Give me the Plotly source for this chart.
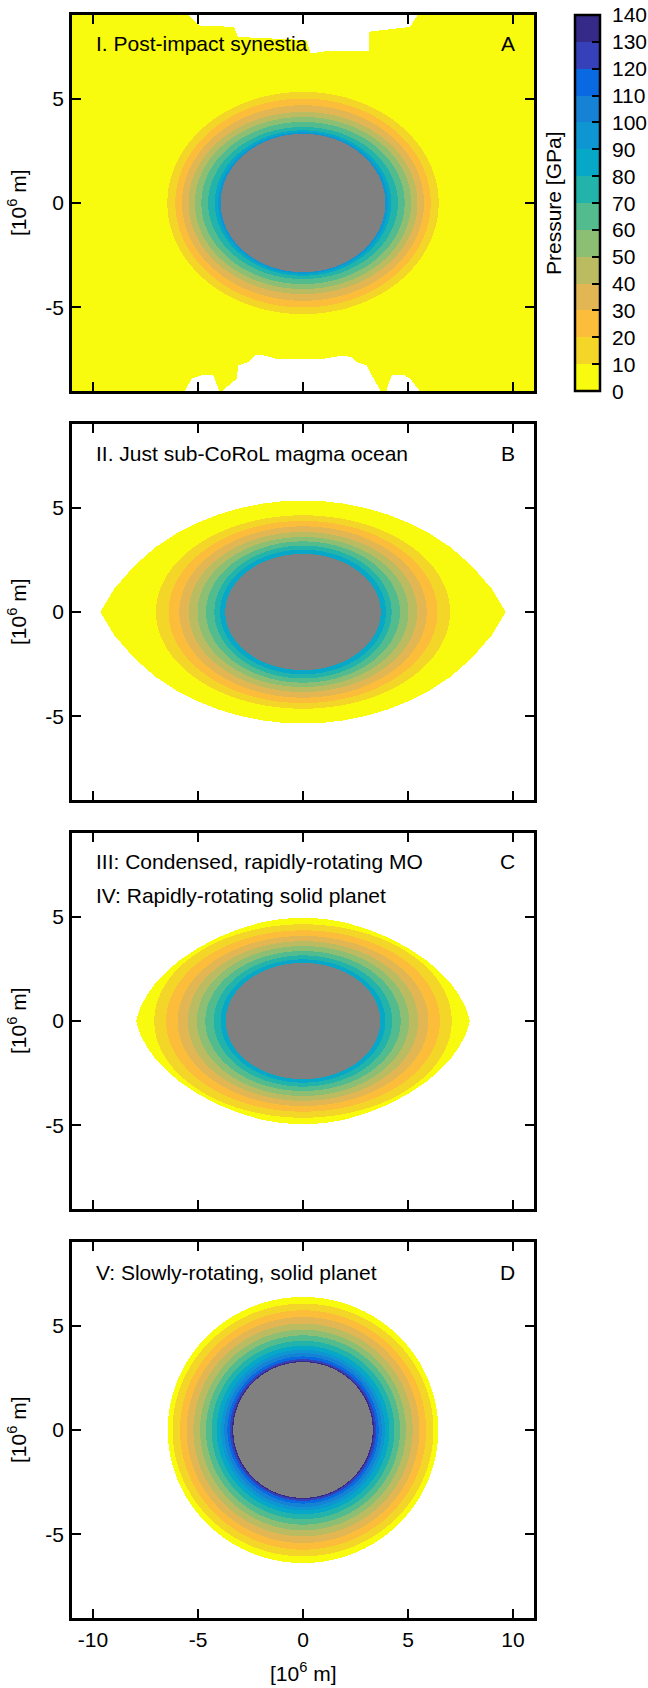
import numpy as np
import plotly.graph_objects as go

# ---------------- data ----------------
pressure_ticks = [0, 10, 20, 30, 40, 50, 60, 70, 80, 90, 100, 110, 120, 130, 140]
band_colors = ['#f9fb0e', '#f3d628', '#fcbd3a', '#e1b653', '#bbbb62', '#8cbe73', '#52bc8e',
               '#22b4ab', '#07a8c7', '#0d96d1', '#1682d5', '#0969e1', '#3640b9', '#352a87']
core_color = '#808080'

# Panel A: post-impact synestia
A_title = "I. Post-impact synestia"
A_tag = "A"
A_bound_p = [10, 20, 30, 40, 50, 60, 70, 80, 90]
A_bound_eq = [6.46, 6.08, 5.76, 5.45, 5.15, 4.84, 4.52, 4.20, 4.04]
A_bound_pol = [5.32, 5.00, 4.68, 4.36, 4.12, 3.88, 3.64, 3.48, 3.38]
A_core_eq, A_core_pol = 3.92, 3.31
A_notch_top_x = [-5.50, -4.96, -3.29, -3.10, 0.15, 0.36, 1.34, 3.12, 3.14, 5.10, 5.48, 5.6, -5.6]
A_notch_top_y = [9.05, 8.50, 8.43, 7.95, 7.80, 7.16, 7.30, 7.30, 8.20, 8.43, 9.05, 9.6, 9.6]
A_notch_bot1_x = [-5.60, -5.30, -4.75, -4.27, -4.00, -4.0, -5.6]
A_notch_bot1_y = [-8.95, -8.41, -8.22, -8.25, -8.95, -9.6, -9.6]
A_notch_bot2_x = [-3.79, -3.16, -3.08, -2.60, -2.29, -1.97, -1.25, 0.97, 1.92, 2.32, 2.56, 3.03, 3.19, 3.67, 3.7, -3.8]
A_notch_bot2_y = [-8.95, -8.41, -7.78, -7.62, -7.30, -7.27, -7.46, -7.46, -7.30, -7.38, -7.62, -7.78, -8.10, -8.95, -9.6, -9.6]
A_notch_bot3_x = [3.98, 4.22, 4.78, 5.10, 5.52, 5.6, 3.95]
A_notch_bot3_y = [-8.95, -8.25, -8.22, -8.41, -8.95, -9.6, -9.6]

# Panel B: just sub-CoRoL magma ocean
B_title = "II. Just sub-CoRoL magma ocean"
B_tag = "B"
B_bound_p = [10, 20, 30, 40, 50, 60, 70, 80]
B_bound_eq = [7.00, 6.40, 5.89, 5.44, 5.02, 4.62, 4.22, 3.95]
B_bound_pol = [4.63, 4.36, 4.10, 3.83, 3.59, 3.38, 3.18, 2.98]
B_core_eq, B_core_pol = 3.70, 2.78
B_surf_x = [0.0, 1.0, 2.0, 3.0, 4.0, 5.0, 6.0, 7.0, 8.0, 9.0, 9.65]
B_surf_y = [5.33, 5.30, 5.18, 4.97, 4.68, 4.28, 3.78, 3.12, 2.25, 1.10, 0.0]

# Panel C: condensed rapidly-rotating MO / solid planet
C_title = "III: Condensed, rapidly-rotating MO"
C_title2 = "IV: Rapidly-rotating solid planet"
C_tag = "C"
C_bound_p = [10, 20, 30, 40, 50, 60, 70, 80]
C_bound_eq = [7.08, 6.52, 5.97, 5.49, 5.05, 4.65, 4.25, 3.92]
C_bound_pol = [4.63, 4.34, 4.07, 3.82, 3.59, 3.35, 3.14, 2.95]
C_core_eq, C_core_pol = 3.68, 2.78
C_surf_x = [0.0, 1.0, 2.0, 3.0, 4.0, 5.0, 6.0, 7.0, 7.4, 7.75, 7.95]
C_surf_y = [4.95, 4.89, 4.72, 4.42, 4.02, 3.50, 2.82, 1.85, 1.30, 0.65, 0.0]

# Panel D: slowly-rotating solid planet
D_title = "V: Slowly-rotating, solid planet"
D_tag = "D"
D_bound_p = [10, 20, 30, 40, 50, 60, 70, 80, 90, 100, 110, 120, 130]
D_bound_eq = [6.21, 5.86, 5.54, 5.22, 4.90, 4.62, 4.35, 4.11, 3.90, 3.75, 3.60, 3.48, 3.38]
D_bound_pol = [6.05, 5.73, 5.41, 5.09, 4.80, 4.53, 4.27, 4.03, 3.84, 3.68, 3.52, 3.39, 3.30]
D_core_eq, D_core_pol = 3.32, 3.25
D_surf_eq, D_surf_pol = 6.44, 6.37

x_ticks = [-10, -5, 0, 5, 10]
x_ticktext = ["-10", "-5", "0", "5", "10"]
y_ticks = [-5, 0, 5]
y_ticktext = ["-5", "0", "5"]
x_range = [-11, 11]
y_range = [-9, 9]

# ---------------- grid ----------------
NX, NY = 462, 376
dx = (x_range[1] - x_range[0]) / NX
dy = (y_range[1] - y_range[0]) / NY
xs = x_range[0] + dx * (np.arange(NX) + 0.5)
ys = y_range[0] + dy * (np.arange(NY) + 0.5)
X, Y = np.meshgrid(xs, ys)


def in_ellipse(a, b):
    return (X / a) ** 2 + (Y / b) ** 2 < 1.0


def in_poly(px, py):
    inside = np.zeros(X.shape, dtype=bool)
    n = len(px)
    j = n - 1
    for i in range(n):
        xi, yi, xj, yj = px[i], py[i], px[j], py[j]
        if yi != yj:
            cond = ((yi > Y) != (yj > Y)) & (X < (xj - xi) * (Y - yi) / (yj - yi) + xi)
            inside ^= cond
        j = i
    return inside


def in_quadrant_surface(sx, sy):
    ax = np.abs(X)
    ytop = np.interp(ax, sx, sy, right=-1.0)
    return (np.abs(Y) < ytop)


def pressure_field(bound_p, bound_eq, bound_pol, core_eq, core_pol, surface_mask):
    z = np.full(X.shape, 5.0)
    for p, a, b in zip(bound_p, bound_eq, bound_pol):
        z = np.where(in_ellipse(a, b), p + 5.0, z)
    core = in_ellipse(core_eq, core_pol)
    z = np.where(surface_mask & ~core, z, np.nan).astype(np.float32)
    zc = np.where(core, 1.0, np.nan).astype(np.float32)
    return z, zc


surfA = np.ones(X.shape, dtype=bool)
for px_, py_ in [(A_notch_top_x, A_notch_top_y), (A_notch_bot1_x, A_notch_bot1_y),
                 (A_notch_bot2_x, A_notch_bot2_y), (A_notch_bot3_x, A_notch_bot3_y)]:
    surfA &= ~in_poly(px_, py_)
surfB = in_quadrant_surface(B_surf_x, B_surf_y)
surfC = in_quadrant_surface(C_surf_x, C_surf_y)
surfD = in_ellipse(D_surf_eq, D_surf_pol)

panels = [
    pressure_field(A_bound_p, A_bound_eq, A_bound_pol, A_core_eq, A_core_pol, surfA),
    pressure_field(B_bound_p, B_bound_eq, B_bound_pol, B_core_eq, B_core_pol, surfB),
    pressure_field(C_bound_p, C_bound_eq, C_bound_pol, C_core_eq, C_core_pol, surfC),
    pressure_field(D_bound_p, D_bound_eq, D_bound_pol, D_core_eq, D_core_pol, surfD),
]

# ---------------- figure ----------------
W, H = 648, 1688
FONT = "Liberation Sans, Arial, Helvetica, sans-serif"
FS = 21
left_px, right_px = 72, 534
panel_tops = [15, 424, 833, 1242]
panel_h = 376

colorscale = []
nb = len(band_colors)
for i, c in enumerate(band_colors):
    colorscale.append([i / nb, c])
    colorscale.append([(i + 1) / nb, c])

fig = go.Figure()
for k, (z, zc) in enumerate(panels):
    suf = "" if k == 0 else str(k + 1)
    fig.add_trace(go.Heatmap(x=xs, y=ys, z=z, coloraxis="coloraxis",
                             xaxis="x" + suf, yaxis="y" + suf, hoverinfo="skip"))
    fig.add_trace(go.Heatmap(x=xs, y=ys, z=zc, colorscale=[[0, core_color], [1, core_color]],
                             zmin=0, zmax=1, showscale=False,
                             xaxis="x" + suf, yaxis="y" + suf, hoverinfo="skip"))

axis_common = dict(showline=True, linecolor="black", linewidth=2.5, mirror="ticks",
                   ticks="inside", ticklen=9, tickwidth=1.5, tickcolor="black",
                   showgrid=False, zeroline=False,
                   tickfont=dict(family=FONT, size=FS, color="black"))

layout = dict(width=W, height=H, margin=dict(l=0, r=0, t=0, b=0),
              paper_bgcolor="white", plot_bgcolor="white", showlegend=False,
              font=dict(family=FONT, size=FS, color="black"))
annotations = []
for k in range(4):
    suf = "" if k == 0 else str(k + 1)
    top = panel_tops[k]
    y0 = 1 - (top + panel_h) / H
    y1 = 1 - top / H
    layout["xaxis" + suf] = dict(axis_common, domain=[left_px / W, right_px / W], range=x_range,
                                 tickvals=x_ticks, ticktext=x_ticktext, showticklabels=(k == 3),
                                 anchor="y" + suf, ticklabelstandoff=1)
    layout["yaxis" + suf] = dict(axis_common, domain=[y0, y1], range=y_range,
                                 tickvals=y_ticks, ticktext=y_ticktext,
                                 anchor="x" + suf, ticklabelstandoff=1)
    annotations.append(dict(text="[10<sup>6</sup> m]", x=17 / W, y=1 - (top + panel_h / 2) / H,
                            xref="paper", yref="paper", showarrow=False, textangle=-90,
                            xanchor="center", yanchor="middle", font=dict(size=FS)))

titles = [(A_title, A_tag, 44), (B_title, B_tag, 454), (C_title, C_tag, 861), (D_title, D_tag, 1272)]
for text, tag, ypx in titles:
    annotations.append(dict(text=text, x=94 / W, y=1 - ypx / H, xref="paper", yref="paper",
                            showarrow=False, xanchor="left", yanchor="middle", font=dict(size=FS)))
    annotations.append(dict(text=tag, x=517 / W, y=1 - ypx / H, xref="paper", yref="paper",
                            showarrow=False, xanchor="right", yanchor="middle", font=dict(size=FS)))
annotations.append(dict(text=C_title2, x=94 / W, y=1 - 895 / H, xref="paper", yref="paper",
                        showarrow=False, xanchor="left", yanchor="middle", font=dict(size=FS)))
annotations.append(dict(text="[10<sup>6</sup> m]", x=303 / W, y=1 - 1672 / H, xref="paper", yref="paper",
                        showarrow=False, xanchor="center", yanchor="middle", font=dict(size=FS)))
annotations.append(dict(text="Pressure [GPa]", x=553 / W, y=1 - 203 / H, xref="paper", yref="paper",
                        showarrow=False, textangle=-90, xanchor="center", yanchor="middle",
                        font=dict(size=FS)))

# colorbar tick labels (placed beside the bar at each pressure tick)
cb_top_px, cb_bot_px = panel_tops[0], panel_tops[0] + panel_h
cb_y0, cb_y1 = 1 - cb_bot_px / H, 1 - cb_top_px / H
pmin, pmax = pressure_ticks[0], pressure_ticks[-1]
for v in pressure_ticks:
    annotations.append(dict(text=str(v), x=610 / W,
                            y=cb_y0 + (v - pmin) / (pmax - pmin) * (cb_y1 - cb_y0),
                            xref="paper", yref="paper", showarrow=False,
                            xanchor="left", yanchor="middle", font=dict(size=FS)))
layout["annotations"] = annotations

layout["coloraxis"] = dict(
    colorscale=colorscale, cmin=pmin, cmax=pmax,
    colorbar=dict(x=575 / W, xanchor="left", xpad=0, ypad=0, thickness=25,
                  lenmode="pixels", len=panel_h, y=1 - (cb_top_px + panel_h / 2) / H, yanchor="middle",
                  outlinecolor="black", outlinewidth=2.5,
                  tickvals=pressure_ticks, showticklabels=False,
                  ticks="inside", ticklen=9, tickwidth=1.5, tickcolor="black"))

fig.update_layout(**layout)
fig.write_html("out.html", config={"displayModeBar": False},
               post_script="document.body.style.margin='0px';document.body.style.padding='0px';")
